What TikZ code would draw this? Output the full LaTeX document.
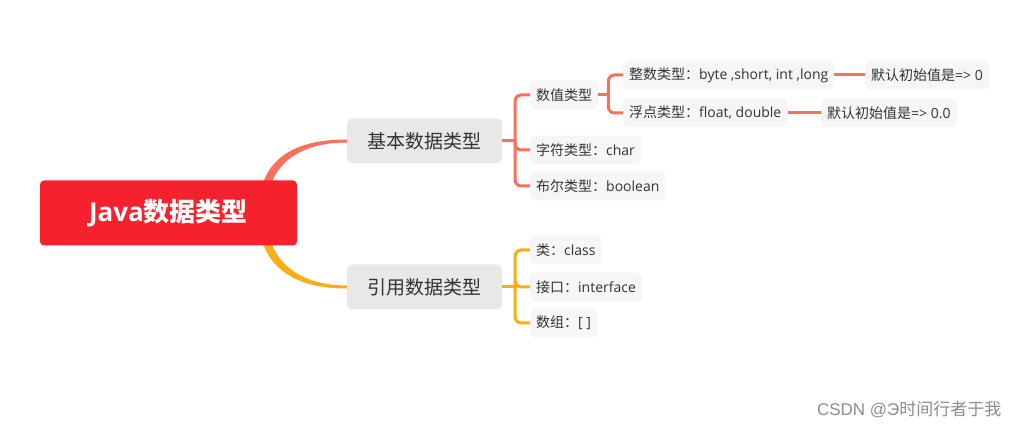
\documentclass[tikz,border=0pt]{standalone}
\usepackage{fontspec}
\setmainfont{Open Sans}
\newfontfamily\cjk{Noto Sans CJK SC}
\newfontfamily\wmfont{Liberation Sans}
\usetikzlibrary{backgrounds}
\definecolor{rootred}{RGB}{245,34,45}
\definecolor{branchred}{RGB}{250,112,90}
\definecolor{branchgold}{RGB}{250,173,20}
\definecolor{topicgray}{RGB}{232,232,232}
\definecolor{leafgray}{RGB}{246,246,246}
\definecolor{textgray}{RGB}{51,51,51}
\begin{document}
\begin{tikzpicture}[
    x=1pt, y=1pt,
    rootbox/.style={fill=rootred, rounded corners=4pt, minimum width=257pt, minimum height=65pt, text=white, font=\fontsize{26}{30}\selectfont\bfseries},
    topic/.style={fill=topicgray, rounded corners=5pt, minimum width=155pt, minimum height=45pt, text=textgray, font=\cjk\fontsize{19}{22}\selectfont},
    leaf/.style={fill=leafgray, rounded corners=5pt, minimum height=29pt, inner xsep=6pt, anchor=west, text=textgray, font=\fontsize{14}{17}\selectfont},
    redline/.style={draw=branchred, line width=3pt},
    goldline/.style={draw=branchgold, line width=3pt},
    wmtext/.style={text=black!45, font=\fontsize{17}{20}\selectfont}
]
    \useasboundingbox (0,0) rectangle (1021,429);
    \node[rootbox] (java) at (168.5,216) {Java{\cjk 数据类型}};
    \node[topic] (jiben) at (424.5,288) {基本数据类型};
    \node[topic] (yinyong) at (424.5,142) {引用数据类型};
    \node[leaf] (shuzhi) at (530,334) {{\cjk 数值类型}};
    \node[leaf] (zifu) at (530,279) {{\cjk 字符类型：}char};
    \node[leaf] (buer) at (530,243) {{\cjk 布尔类型：}boolean};
    \node[leaf] (zhengshu) at (623,354) {{\cjk 整数类型：}byte ,short, int ,long};
    \node[leaf] (fudian) at (623,316) {{\cjk 浮点类型：}float, double};
    \node[leaf] (moren) at (865,354) {{\cjk 默认初始值是}=> 0};
    \node[leaf] (morenf) at (821,316) {{\cjk 默认初始值是}=> 0.0};
    \node[leaf] (lei) at (530,179) {{\cjk 类：}class};
    \node[leaf] (jiekou) at (530,142) {{\cjk 接口：}interface};
    \node[leaf] (shuzu) at (530,106) {{\cjk 数组：}[ ]};
    \node[wmtext, anchor=east] (csdn) at (1005,19) {{\wmfont CSDN @Э}{\cjk 时间行者于我}};
    \begin{scope}[on background layer]
        \fill[branchred] ([xshift=-39pt]java.east) .. controls +(0,57) and +(-49,0) .. ([yshift=1.5pt]jiben.west)
            -- ([yshift=-1.5pt]jiben.west) .. controls +(-45,0) and +(0,51) .. ([xshift=-31pt]java.east) -- cycle;
        \fill[branchgold] ([xshift=-39pt]java.east) .. controls +(0,-57) and +(-49,0) .. ([yshift=-1.5pt]yinyong.west)
            -- ([yshift=1.5pt]yinyong.west) .. controls +(-45,0) and +(0,-51) .. ([xshift=-31pt]java.east) -- cycle;
    \end{scope}
    \draw[redline] (jiben.east) -- ++(13,0) coordinate (jb);
    \foreach \c in {shuzhi,zifu,buer}
        \draw[redline, rounded corners=6pt] (jb) |- (\c.west);
    \draw[redline] (shuzhi.east) -- ++(10,0) coordinate (sz);
    \foreach \c in {zhengshu,fudian}
        \draw[redline, rounded corners=6pt] (sz) |- (\c.west);
    \draw[redline] (zhengshu) -- (moren);
    \draw[redline] (fudian) -- (morenf);
    \draw[goldline] (yinyong.east) -- ++(13,0) coordinate (yy);
    \foreach \c in {lei,jiekou,shuzu}
        \draw[goldline, rounded corners=6pt] (yy) |- (\c.west);
\end{tikzpicture}
\end{document}
